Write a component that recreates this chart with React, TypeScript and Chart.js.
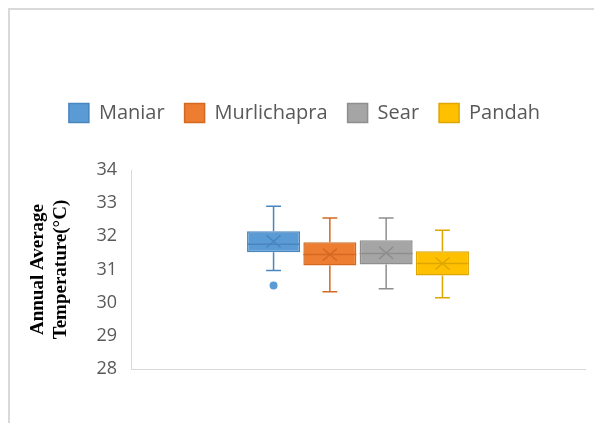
import React, { useEffect, useRef } from "react";
import { Chart, registerables } from "chart.js";

Chart.register(...registerables);

const categories = ["Maniar", "Murlichapra", "Sear", "Pandah"];
const minVals = [30.97, 30.33, 30.42, 30.15];
const q1Vals = [31.52, 31.12, 31.15, 30.82];
const medianVals = [31.76, 31.45, 31.48, 31.18];
const q3Vals = [32.15, 31.82, 31.88, 31.55];
const maxVals = [32.91, 32.55, 32.55, 32.18];
const meanVals = [31.85, 31.45, 31.5, 31.18];
const outlierVals: number[][] = [[30.52], [], [], []];
const yTicks = [28, 29, 30, 31, 32, 33, 34];

const fillColors = ["#5B9BD5", "#ED7D31", "#A5A5A5", "#FFC000"];
const lineColors = ["#4A86BE", "#D46A22", "#8E8E8E", "#DDA600"];

const LEGEND_EXTRA = 37;

export default function App() {
  const ref = useRef<HTMLCanvasElement>(null);

  useEffect(() => {
    const boxPlugin = {
      id: "boxWhisker",
      beforeInit(chart: any) {
        const fit = chart.legend.fit;
        chart.legend.fit = function () {
          fit.call(this);
          this.height += LEGEND_EXTRA;
        };
      },
      afterDatasetsDraw(chart: any) {
        const ctx = chart.ctx;
        const y = chart.scales.y;
        ctx.save();
        categories.forEach((_, i) => {
          const meta = chart.getDatasetMeta(i);
          const bar = meta.data[0];
          if (!bar) return;
          const x = bar.x;
          const w = bar.width;
          const capHalf = w * 0.14;
          ctx.strokeStyle = lineColors[i];
          ctx.lineWidth = 1.5;
          const yMax = y.getPixelForValue(maxVals[i]);
          const yQ3 = y.getPixelForValue(q3Vals[i]);
          const yQ1 = y.getPixelForValue(q1Vals[i]);
          const yMin = y.getPixelForValue(minVals[i]);
          ctx.beginPath();
          ctx.moveTo(x, yQ3);
          ctx.lineTo(x, yMax);
          ctx.moveTo(x - capHalf, yMax);
          ctx.lineTo(x + capHalf, yMax);
          ctx.moveTo(x, yQ1);
          ctx.lineTo(x, yMin);
          ctx.moveTo(x - capHalf, yMin);
          ctx.lineTo(x + capHalf, yMin);
          ctx.stroke();
          const yMed = y.getPixelForValue(medianVals[i]);
          ctx.beginPath();
          ctx.moveTo(x - w / 2, yMed);
          ctx.lineTo(x + w / 2, yMed);
          ctx.stroke();
          const yMean = y.getPixelForValue(meanVals[i]);
          ctx.beginPath();
          ctx.moveTo(x - 7, yMean - 6);
          ctx.lineTo(x + 7, yMean + 6);
          ctx.moveTo(x + 7, yMean - 6);
          ctx.lineTo(x - 7, yMean + 6);
          ctx.stroke();
          ctx.fillStyle = fillColors[i];
          outlierVals[i].forEach((v) => {
            ctx.beginPath();
            ctx.arc(x, y.getPixelForValue(v), 4, 0, Math.PI * 2);
            ctx.fill();
          });
        });
        ctx.restore();
      },
    };

    const chart = new Chart(ref.current as HTMLCanvasElement, {
      type: "bar",
      data: {
        labels: [""],
        datasets: categories.map((name, i) => ({
          label: name,
          data: [[q1Vals[i], q3Vals[i]]] as any,
          backgroundColor: fillColors[i],
          borderColor: lineColors[i],
          borderWidth: 1.5,
          borderSkipped: false,
          categoryPercentage: 0.496,
          barPercentage: 0.942,
        })),
      },
      options: {
        responsive: false,
        animation: false,
        layout: { padding: { top: 73, left: 14, right: 9, bottom: 46 } },
        plugins: {
          tooltip: { enabled: false },
          legend: {
            position: "top",
            labels: {
              boxWidth: 20,
              boxHeight: 19,
              padding: 20,
              color: "#595959",
              font: { family: "'Open Sans', sans-serif", size: 20 },
            },
          },
        },
        scales: {
          x: {
            grid: { display: false },
            ticks: { display: false },
            border: { display: true, color: "#d9d9d9", width: 1 },
          },
          y: {
            min: 28,
            max: 34,
            afterFit(scale: any) {
              scale.width = 107;
            },
            afterBuildTicks(scale: any) {
              scale.ticks = yTicks.map((v) => ({ value: v }));
            },
            grid: { display: false, drawTicks: false },
            border: { display: true, color: "#d9d9d9", width: 1 },
            ticks: {
              padding: 14,
              color: "#595959",
              font: { family: "'Open Sans', sans-serif", size: 18 },
            },
            title: {
              display: true,
              text: ["Annual Average", "Temperature(°C)"],
              color: "#000000",
              font: { family: "'Liberation Serif', serif", weight: "bold", size: 19 },
              padding: { top: 3, bottom: 0 },
            },
          },
        },
      },
      plugins: [boxPlugin],
    });
    return () => chart.destroy();
  }, []);

  return (
    <div
      style={{
        position: "fixed",
        left: 8,
        top: 8,
        width: 586,
        height: 415,
        borderLeft: "2px solid #d9d9d9",
        borderTop: "2px solid #d9d9d9",
        background: "#ffffff",
      }}
    >
      <canvas ref={ref} width={584} height={413} style={{ display: "block" }} />
    </div>
  );
}
